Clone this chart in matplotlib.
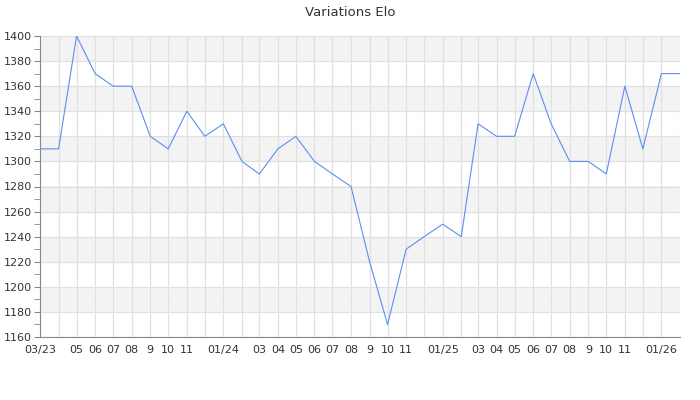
import numpy as np
import pandas as pd
import matplotlib
matplotlib.use("Agg")
import matplotlib.pyplot as plt

# Elo at the start of each month, 03/2023 -> 02/2026
months = pd.date_range("2023-03-01", "2026-02-01", freq="MS")
elo = [1310, 1310, 1400, 1370, 1360, 1360, 1320, 1310, 1340, 1320, 1330, 1300,
       1290, 1310, 1320, 1300, 1290, 1280, 1220, 1170, 1230, 1240, 1250, 1240,
       1330, 1320, 1320, 1370, 1330, 1300, 1300, 1290, 1360, 1310, 1370, 1370]

# tick labels (one per month, empty where the chart skips it)
tick_labels = ["03/23", "", "05", "06", "07", "08", "9", "10", "11", "", "01/24", "",
               "03", "04", "05", "06", "07", "08", "9", "10", "11", "", "01/25", "",
               "03", "04", "05", "06", "07", "08", "9", "10", "11", "", "01/26", ""]

y_min, y_max, y_step = 1160, 1400, 20

fig = plt.figure(figsize=(7, 4), dpi=100)
ax = fig.add_axes([40 / 700, 1 - 337 / 400, 640 / 700, (337 - 36) / 400])

# alternating bands
for i, lo in enumerate(range(y_min, y_max, y_step)):
    if i % 2 == 1:
        ax.axhspan(lo, lo + y_step, color="#f3f3f3", zorder=0, lw=0)

ax.plot(months, elo, color="#5b8ff0", lw=0.8, zorder=3)

ax.set_xlim(months[0], months[-1])
ax.set_ylim(y_min, y_max)
ax.set_xticks(months)
ax.set_xticklabels(tick_labels)
ax.set_yticks(range(y_min, y_max + 1, y_step))
ax.set_yticks(range(y_min + 10, y_max, y_step), minor=True)

ax.grid(True, which="major", color="#e0e0e0", lw=0.9, zorder=1)
ax.set_axisbelow(True)

for s in ["top", "right"]:
    ax.spines[s].set_visible(False)
ax.spines["left"].set_color("#888888")
ax.spines["bottom"].set_color("#888888")

ax.tick_params(axis="x", length=0, pad=6, labelsize=8, labelcolor="#333333")
ax.tick_params(axis="y", which="major", length=4, pad=2, color="#888888", labelsize=8, labelcolor="#333333")
ax.tick_params(axis="y", which="minor", length=4, color="#888888")

fig.suptitle("Variations Elo", y=0.985, fontsize=9.5, color="#333333")

fig.savefig("out.png", dpi=100)
